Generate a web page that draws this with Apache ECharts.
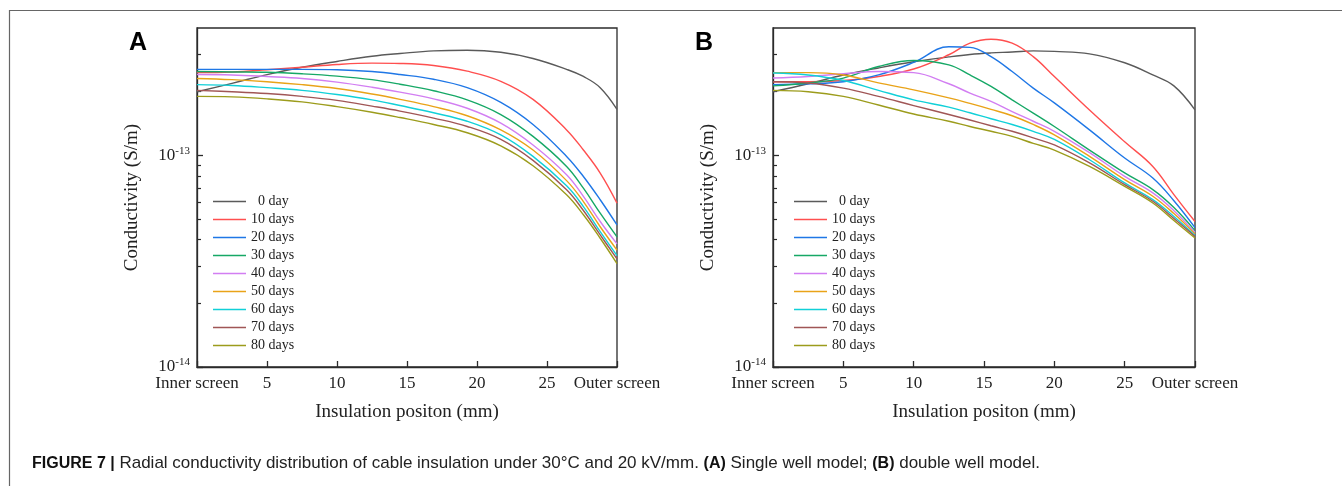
<!DOCTYPE html>
<html><head><meta charset="utf-8">
<script src="https://cdn.jsdelivr.net/npm/echarts@6/dist/echarts.min.js"></script>
<style>html,body{margin:0;padding:0;background:#fff}#c{width:1342px;height:486px}</style>
</head><body><div id="c"></div>
<script>
// ---------- data ----------
const seriesNames = ['0 day', '10 days', '20 days', '30 days', '40 days', '50 days', '60 days', '70 days', '80 days'];
const seriesColors = ['#5a5a5a', '#ff4f4f', '#1f77e6', '#16a866', '#d27ef2', '#e9a318', '#11d0d8', '#a05656', '#9c9c1c'];

// Panel A: single well model (positions in mm, conductivity in S/m)
const positionsA = [0, 2.5, 5, 7.5, 10, 12.5, 14.5, 16.9, 19.3, 21.7, 24, 26.4, 27.6, 28.8, 30];
const singleDay0  = [2.00e-13, 2.19e-13, 2.41e-13, 2.61e-13, 2.78e-13, 2.94e-13, 3.03e-13, 3.12e-13, 3.14e-13, 3.07e-13, 2.87e-13, 2.55e-13, 2.36e-13, 2.09e-13, 1.65e-13];
const singleDay10 = [2.46e-13, 2.48e-13, 2.54e-13, 2.61e-13, 2.69e-13, 2.73e-13, 2.72e-13, 2.66e-13, 2.50e-13, 2.24e-13, 1.84e-13, 1.32e-13, 1.06e-13, 8.25e-14, 5.95e-14];
const singleDay20 = [2.55e-13, 2.55e-13, 2.55e-13, 2.55e-13, 2.54e-13, 2.49e-13, 2.41e-13, 2.29e-13, 2.09e-13, 1.78e-13, 1.40e-13, 9.89e-14, 7.95e-14, 6.17e-14, 4.69e-14];
const singleDay30 = [2.49e-13, 2.48e-13, 2.47e-13, 2.43e-13, 2.37e-13, 2.28e-13, 2.17e-13, 2.02e-13, 1.83e-13, 1.56e-13, 1.23e-13, 8.87e-14, 7.00e-14, 5.33e-14, 4.12e-14];
const singleDay40 = [2.41e-13, 2.40e-13, 2.36e-13, 2.31e-13, 2.22e-13, 2.10e-13, 1.99e-13, 1.85e-13, 1.67e-13, 1.42e-13, 1.12e-13, 8.10e-14, 6.40e-14, 4.87e-14, 3.82e-14];
const singleDay50 = [2.31e-13, 2.28e-13, 2.23e-13, 2.16e-13, 2.07e-13, 1.95e-13, 1.84e-13, 1.70e-13, 1.54e-13, 1.32e-13, 1.06e-13, 7.60e-14, 6.05e-14, 4.60e-14, 3.57e-14];
const singleDay60 = [2.16e-13, 2.14e-13, 2.09e-13, 2.03e-13, 1.94e-13, 1.83e-13, 1.72e-13, 1.59e-13, 1.45e-13, 1.25e-13, 9.89e-14, 7.18e-14, 5.73e-14, 4.36e-14, 3.36e-14];
const singleDay70 = [2.03e-13, 2.00e-13, 1.96e-13, 1.90e-13, 1.82e-13, 1.71e-13, 1.62e-13, 1.50e-13, 1.37e-13, 1.19e-13, 9.47e-14, 6.88e-14, 5.49e-14, 4.21e-14, 3.24e-14];
const singleDay80 = [1.90e-13, 1.89e-13, 1.85e-13, 1.79e-13, 1.70e-13, 1.60e-13, 1.51e-13, 1.40e-13, 1.28e-13, 1.11e-13, 8.94e-14, 6.51e-14, 5.24e-14, 4.06e-14, 3.08e-14];

// Panel B: double well model
const positionsB = [0, 2.5, 5, 7.5, 10, 12.5, 14, 15.5, 17, 18.5, 20, 22.5, 25, 27, 28.5, 30];
const doubleDay0  = [2.00e-13, 2.18e-13, 2.40e-13, 2.59e-13, 2.77e-13, 2.92e-13, 3.00e-13, 3.05e-13, 3.08e-13, 3.12e-13, 3.10e-13, 3.02e-13, 2.74e-13, 2.40e-13, 2.13e-13, 1.64e-13];
const doubleDay10 = [2.23e-13, 2.23e-13, 2.26e-13, 2.36e-13, 2.56e-13, 2.99e-13, 3.39e-13, 3.54e-13, 3.39e-13, 2.93e-13, 2.36e-13, 1.64e-13, 1.16e-13, 8.87e-14, 6.53e-14, 4.87e-14];
const doubleDay20 = [2.16e-13, 2.18e-13, 2.23e-13, 2.40e-13, 2.75e-13, 3.26e-13, 3.24e-13, 2.93e-13, 2.49e-13, 2.08e-13, 1.77e-13, 1.32e-13, 9.72e-14, 7.82e-14, 6.11e-14, 4.56e-14];
const doubleDay30 = [2.13e-13, 2.20e-13, 2.32e-13, 2.63e-13, 2.81e-13, 2.68e-13, 2.40e-13, 2.12e-13, 1.83e-13, 1.585e-13, 1.37e-13, 1.06e-13, 8.26e-14, 6.89e-14, 5.67e-14, 4.41e-14];
const doubleDay40 = [2.32e-13, 2.36e-13, 2.43e-13, 2.49e-13, 2.46e-13, 2.18e-13, 1.97e-13, 1.80e-13, 1.61e-13, 1.45e-13, 1.30e-13, 1.03e-13, 7.96e-14, 6.65e-14, 5.48e-14, 4.32e-14];
const doubleDay50 = [2.46e-13, 2.46e-13, 2.40e-13, 2.20e-13, 2.04e-13, 1.87e-13, 1.76e-13, 1.65e-13, 1.54e-13, 1.40e-13, 1.25e-13, 9.89e-14, 7.68e-14, 6.41e-14, 5.31e-14, 4.25e-14];
const doubleDay60 = [2.45e-13, 2.40e-13, 2.26e-13, 2.03e-13, 1.83e-13, 1.69e-13, 1.59e-13, 1.49e-13, 1.40e-13, 1.30e-13, 1.19e-13, 9.54e-14, 7.41e-14, 6.18e-14, 5.14e-14, 4.18e-14];
const doubleDay70 = [2.23e-13, 2.20e-13, 2.08e-13, 1.90e-13, 1.72e-13, 1.56e-13, 1.47e-13, 1.38e-13, 1.30e-13, 1.21e-13, 1.12e-13, 9.21e-14, 7.27e-14, 6.07e-14, 5.03e-14, 4.14e-14];
const doubleDay80 = [2.03e-13, 2.00e-13, 1.90e-13, 1.73e-13, 1.57e-13, 1.45e-13, 1.37e-13, 1.30e-13, 1.23e-13, 1.14e-13, 1.06e-13, 8.87e-14, 7.14e-14, 5.96e-14, 4.92e-14, 4.07e-14];

// axes
const xMin = 0, xMax = 30, xInterval = 5;
const xEdgeLabels = { 0: 'Inner screen', 30: 'Outer screen' };
const yMin = 1e-14, yMax = 4e-13;
const yMajorTicks = [1e-14, 1e-13];
const yMinorTicks = [2e-14, 3e-14, 4e-14, 5e-14, 6e-14, 7e-14, 8e-14, 9e-14, 2e-13, 3e-13];
const xAxisName = 'Insulation positon (mm)';
const yAxisName = 'Conductivity (S/m)';
const panelLetters = ['A', 'B'];
const captionText = '{b|FIGURE 7 |} Radial conductivity distribution of cable insulation under 30°C and 20 kV/mm. {b|(A)} Single well model; {b|(B)} double well model.';

const singleWell = [singleDay0, singleDay10, singleDay20, singleDay30, singleDay40, singleDay50, singleDay60, singleDay70, singleDay80];
const doubleWell = [doubleDay0, doubleDay10, doubleDay20, doubleDay30, doubleDay40, doubleDay50, doubleDay60, doubleDay70, doubleDay80];

// ---------- chart ----------
const SERIF = 'Liberation Serif';
const SANS = 'Liberation Sans';
const AX = '#2b2b2b';
const chart = echarts.init(document.getElementById('c'), null, { renderer: 'canvas' });

const grids = [
  { left: 197, top: 28, width: 420, height: 339 },
  { left: 773, top: 28, width: 422, height: 339 }
];

function xAxisFor(i) {
  return {
    type: 'value', gridIndex: i, min: xMin, max: xMax, interval: xInterval,
    axisLine: { show: true, lineStyle: { color: AX, width: 1.3 } },
    axisTick: { show: true, inside: true, length: 6, lineStyle: { color: AX, width: 1.3 } },
    splitLine: { show: false },
    axisLabel: {
      fontFamily: SERIF, fontSize: 17, color: '#222', margin: 8,
      formatter: v => (xEdgeLabels[v] !== undefined ? xEdgeLabels[v] : String(v))
    },
    name: xAxisName, nameLocation: 'middle', nameGap: 36,
    nameTextStyle: { fontFamily: SERIF, fontSize: 19, color: '#222' }
  };
}
function yAxisMain(i) {
  return {
    type: 'log', logBase: 10, gridIndex: i, min: yMin, max: yMax, position: 'left',
    axisLine: { show: true, lineStyle: { color: AX, width: 1.3 } },
    axisTick: { show: true, inside: true, length: 6, customValues: yMajorTicks, lineStyle: { color: AX, width: 1.3 } },
    splitLine: { show: false },
    minorTick: { show: false },
    axisLabel: {
      customValues: yMajorTicks, margin: 7, color: '#222',
      formatter: v => '{b|10}{s|' + Math.round(Math.log10(v)) + '}',
      rich: {
        b: { fontFamily: SERIF, fontSize: 17, color: '#222' },
        s: { fontFamily: SERIF, fontSize: 11, color: '#222', verticalAlign: 'bottom', padding: [0, 0, 9, 0] }
      }
    },
    name: yAxisName, nameLocation: 'middle', nameGap: 55,
    nameTextStyle: { fontFamily: SERIF, fontSize: 19, color: '#222' }
  };
}
function yAxisMinor(i) {
  return {
    type: 'log', logBase: 10, gridIndex: i, min: yMin, max: yMax, position: 'left', offset: 0,
    axisLine: { show: false },
    axisTick: { show: true, inside: true, length: 4, customValues: yMinorTicks, lineStyle: { color: AX, width: 1.2 } },
    axisLabel: { show: false },
    splitLine: { show: false }
  };
}

const series = [];
[ [positionsA, singleWell], [positionsB, doubleWell] ].forEach(([pos, sets], g) => {
  sets.forEach((vals, k) => {
    series.push({
      name: seriesNames[k], type: 'line', xAxisIndex: g, yAxisIndex: g * 2,
      data: pos.map((x, j) => [x, vals[j]]),
      symbol: 'none', smooth: 0.4,
      lineStyle: { width: 1.4, color: seriesColors[k] },
      itemStyle: { color: seriesColors[k] },
      z: 2 + k
    });
  });
});

function legendFor(left) {
  return {
    data: seriesNames, orient: 'vertical', left: left, top: 194.5, padding: 0,
    icon: 'rect', itemWidth: 33, itemHeight: 1.6, itemGap: 4,
    selectedMode: false,
    textStyle: { fontFamily: SERIF, fontSize: 14, color: '#222', lineHeight: 14 },
    formatter: n => (n === '0 day' ? '  0 day' : n)
  };
}

const option = {
  backgroundColor: '#fff',
  animation: false,
  grid: grids.map(g => Object.assign({ show: true, borderColor: AX, borderWidth: 1.3, backgroundColor: 'transparent' }, g)),
  xAxis: [xAxisFor(0), xAxisFor(1)],
  yAxis: [yAxisMain(0), yAxisMinor(0), yAxisMain(1), yAxisMinor(1)],
  legend: [legendFor(213), legendFor(794)],
  series: series,
  graphic: [
    { type: 'polyline', silent: true, shape: { points: [[9.5, 486], [9.5, 10.5], [1342, 10.5]] }, style: { stroke: '#666', lineWidth: 1.2, fill: null } },
    { type: 'text', left: 129, top: 31, style: { text: panelLetters[0], fontFamily: SANS, fontWeight: 'bold', fontSize: 25, fill: '#000' } },
    { type: 'text', left: 695, top: 31, style: { text: panelLetters[1], fontFamily: SANS, fontWeight: 'bold', fontSize: 25, fill: '#000' } },
    { type: 'text', left: 32, top: 455, style: {
        text: captionText, fontFamily: SANS, fontSize: 17, fill: '#222',
        rich: { b: { fontFamily: SANS, fontSize: 16, fontWeight: 'bold', fill: '#111' } }
    } }
  ]
};
chart.setOption(option);
</script>
</body></html>
